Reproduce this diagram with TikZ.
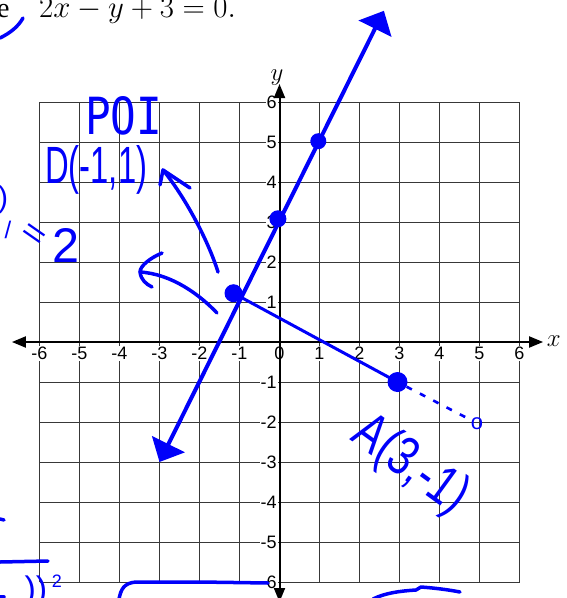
\documentclass[tikz,border=0pt]{standalone}
\usepackage{fontspec}
\setmainfont{Liberation Sans}
\newfontfamily\seriffnt{Liberation Serif}
\newfontfamily\monofnt{DejaVu Sans Mono}
\usetikzlibrary{arrows.meta}
\definecolor{ink}{RGB}{0,0,250}
\begin{document}
\begin{tikzpicture}[x=1pt,y=-1pt,
  gridline/.style={black!78, line width=0.9pt},
  axisline/.style={black, line width=2pt},
  ticklab/.style={font=\fontsize{18}{18}\selectfont, fill=white, inner sep=1pt},
  inkline/.style={ink, line width=3.5pt, line cap=round, line join=round},
  blob/.style={circle, fill=ink, inner sep=0pt, minimum size=#1},
  hand/.style={text=ink, inner sep=0pt}
]
\useasboundingbox (0,0) rectangle (566,598);
\clip (0,0) rectangle (566,598);
\fill[white] (0,0) rectangle (566,598);

% heading fragment
\node[anchor=base west, inner sep=0pt, font=\fontsize{28}{28}\selectfont\seriffnt] (eword) at (-3,17) {e};
\node[anchor=base west, inner sep=0pt, font=\fontsize{24}{24}\selectfont] (eqn) at (39,17) {\scalebox{1.24}{$2x-y+3=0.$}};

\begin{scope}[shift={(279.5,342)}, x=40pt, y=40pt]
  \foreach \k in {-6,...,6} {
    \draw[gridline] (\k,-6) -- (\k,6);
    \draw[gridline] (-6,\k) -- (6,\k);
  }
  \foreach \i in {-6,-5,-4,-3,-2,-1,0,1,2,3,4,5,6}
    \node[ticklab, anchor=north] (xl\i) at (\i,-0.1) {\i};
  \foreach \j in {-6,-5,-4,-3,-2,-1,1,2,3,4,5,6}
    \node[ticklab, anchor=east] (yl\j) at (-0.04,\j) {\j};
  \coordinate (xa) at (-6.69,0);
  \coordinate (xb) at (6.59,0);
  \coordinate (ya) at (0,-6.5);
  \coordinate (yb) at (0,6.45);
  \draw[axisline, {Triangle[length=14pt,width=11pt]}-{Triangle[length=14pt,width=11pt]}] (xa) -- (xb);
  \draw[axisline, {Triangle[length=14pt,width=11pt]}-{Triangle[length=14pt,width=11pt]}] (ya) -- (yb);
  \node[font=\fontsize{24}{24}\selectfont, inner sep=0pt] (xname) at (6.86,0.03) {$x$};
  \node[font=\fontsize{24}{24}\selectfont, inner sep=0pt] (yname) at (-0.06,6.62) {$y$};

  % the line y = 2x + 3
  \coordinate (L1) at (-3,-3);
  \coordinate (L2) at (2.61,8.28);
  \draw[ink, line width=4pt, {Triangle[length=20pt,width=36pt]}-{Triangle[length=20pt,width=36pt]}] (L1) -- (L2);

  \node[blob=18pt] (D) at (-1.15,1.22) {};
  \node[blob=17pt] (P3) at (-0.04,3.08) {};
  \node[blob=16pt] (P5) at (0.97,5.02) {};
  \node[blob=20pt] (A) at (2.95,-1.0) {};
  \draw[ink, line width=3pt] (D.center) -- (A.center);
  \node[hand, font=\fontsize{22}{22}\selectfont] (oend) at (4.94,-2.03) {o};
  \draw[ink, line width=2.6pt, dash pattern=on 6pt off 9pt] (A) -- (oend);
\end{scope}

% handwritten notes
\node[hand, anchor=base west] (poi) at (85,134) {\resizebox{77pt}{38pt}{\monofnt POI}};
\node[hand, anchor=base west] (dlab) at (45,183) {\resizebox{102pt}{38pt}{D(-1,1)}};
\node[hand, rotate=-36] (alab) at (410,466) {\resizebox{128pt}{40pt}{A(3,-1)}};

% arrow towards D label
\coordinate (a1s) at (218,272);
\coordinate (a1t) at (163,170);
\draw[inkline] (a1s) .. controls (208,240) and (185,197) .. (a1t);
\draw[inkline] (160,185) -- (a1t) -- (190,188);
% arrow pointing left
\coordinate (a2s) at (217,313);
\coordinate (a2t) at (140,272);
\draw[inkline] (a2s) .. controls (200,295) and (172,274) .. (a2t);
\draw[inkline] (162,253) .. controls (150,258) and (140,266) .. (a2t) .. controls (141,280) and (146,284) .. (152,287);

% left margin fragments
\node[hand, font=\fontsize{30}{30}\selectfont] (frag1) at (3,200) {)};
\node[hand, font=\fontsize{24}{24}\selectfont] (frag2) at (8,230) {/};
\node[hand, rotate=-35] (frag3) at (33,236) {\resizebox{24pt}{16pt}{=}};
\node[hand] (frag4) at (66,245) {\resizebox{27pt}{34pt}{2}};

% top-left stroke
\draw[inkline] (0,38) .. controls (10,33) and (18,27) .. (23,18);

% bottom fragments
\draw[inkline] (0,519) -- (4,520);
\draw[inkline] (0,562) -- (48,561);
\node[hand, font=\fontsize{34}{34}\selectfont] (pp) at (36,592) {))};
\node[hand, font=\fontsize{18}{18}\selectfont] (sq) at (57,581) {2};
\draw[inkline] (0,597) -- (4,597);
\draw[inkline] (119,599) .. controls (121,589) and (124,583) .. (136,582) -- (200,582) -- (268,583);
\draw[inkline] (373,599) .. controls (385,593) and (400,591) .. (416,590) -- (421,587) .. controls (435,588) and (450,590) .. (460,592);
\end{tikzpicture}
\end{document}
